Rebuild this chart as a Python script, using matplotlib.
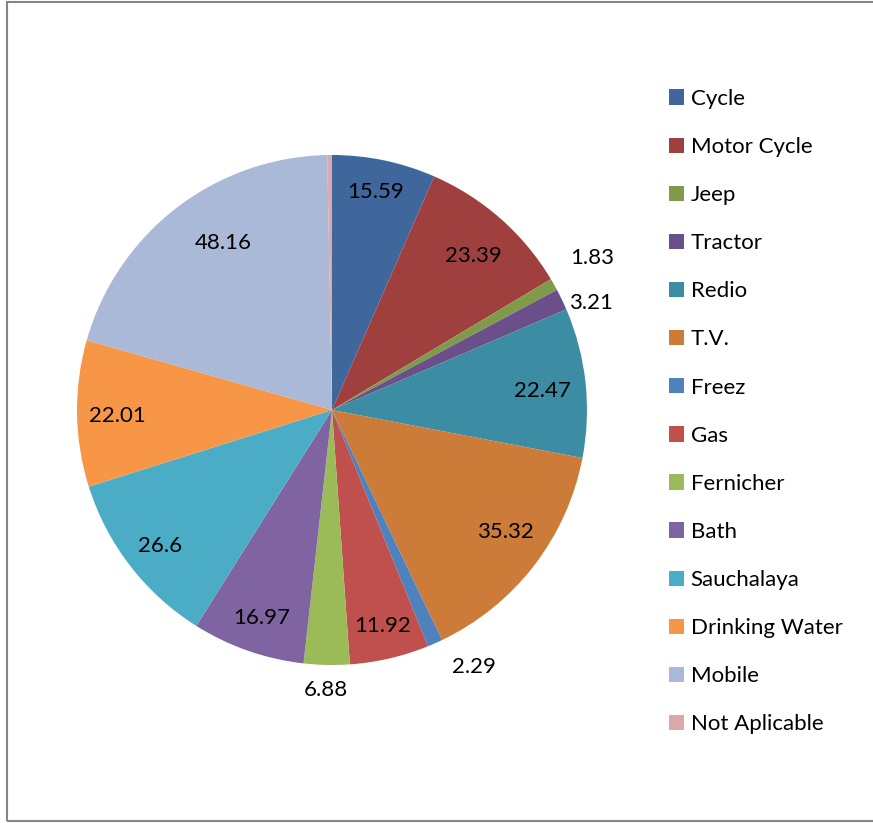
import numpy as np
import matplotlib.pyplot as plt
from matplotlib.patches import Rectangle

plt.rcParams['font.family'] = ['Lato', 'DejaVu Sans']

categories = ["Cycle", "Motor Cycle", "Jeep", "Tractor", "Redio", "T.V.", "Freez",
              "Gas", "Fernicher", "Bath", "Sauchalaya", "Drinking Water", "Mobile",
              "Not Aplicable"]
values = [15.59, 23.39, 1.83, 3.21, 22.47, 35.32, 2.29, 11.92, 6.88, 16.97, 26.6,
          22.01, 48.16, 0.7]
labels = ["15.59", "23.39", "1.83", "3.21", "22.47", "35.32", "2.29", "11.92",
          "6.88", "16.97", "26.6", "22.01", "48.16", ""]

colors = ["#3F679B", "#A0403E", "#7F9A48", "#6A4F8A", "#3C8DA3", "#CC7B38",
          "#4F81BD", "#C0504D", "#9BBB59", "#8064A2", "#4BACC6", "#F79646",
          "#AAB9D7", "#D9AAA9"]
# label radius and angle nudge (deg, clockwise) per slice
lab_r = [0.87, 0.82, 1.18, 1.10, 0.83, 0.83, 1.15, 0.87, 1.10, 0.86, 0.86, 0.84, 0.78, 0]
lab_da = [-0.6, 1.0, -0.8, 3.3, 1.0, -2.5, -5.0, 0, 0, -0.6, -0.6, -0.7, 4.5, 0]

W, H = 873, 823
fig = plt.figure(figsize=(W / 100, H / 100), dpi=100)

cx, cy, R = 332, 410, 255
ax = fig.add_axes([(cx - R) / W, (H - cy - R) / H, 2 * R / W, 2 * R / H])
wedges, _ = ax.pie(values, colors=colors, startangle=90, counterclock=False,
                   radius=1.0, wedgeprops=dict(linewidth=0))
ax.set_xlim(-1, 1)
ax.set_ylim(-1, 1)
ax.set_aspect('auto')
ax.axis('off')

total = sum(values)
start = 0.0
for i, v in enumerate(values):
    span = v / total * 360
    if labels[i]:
        a = np.deg2rad(start + span / 2 + lab_da[i])
        ax.text(lab_r[i] * np.sin(a), lab_r[i] * np.cos(a), labels[i],
                ha='center', va='center', fontsize=16, color='black')
    start += span

leg = fig.legend(wedges, categories, loc='upper left',
                 bbox_to_anchor=(660 / W, 1 - 80 / H), frameon=False,
                 fontsize=16, handlelength=0.68, handleheight=0.68,
                 handletextpad=0.3, labelspacing=1.265, borderaxespad=0)

fig.patches.append(Rectangle((7 / W, 2 / H), 1.2, 1 - 4 / H, transform=fig.transFigure,
                             fill=False, edgecolor='#868686', linewidth=1.5))

fig.savefig("out.png", dpi=100)
